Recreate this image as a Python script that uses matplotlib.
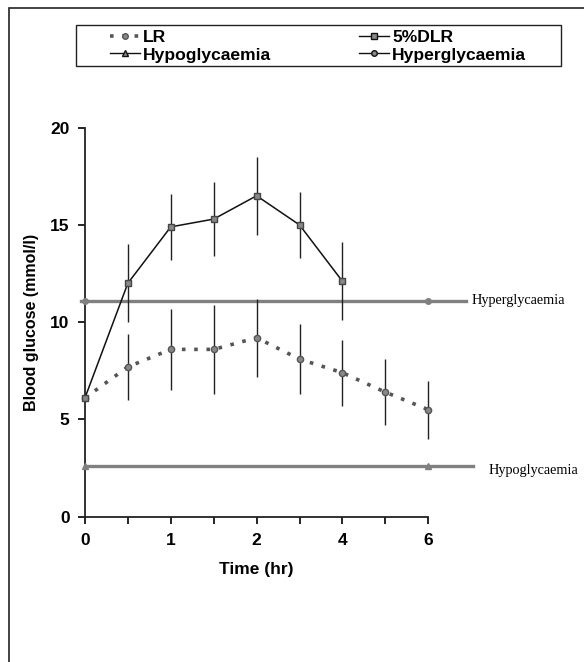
import matplotlib
matplotlib.use("Agg")
import matplotlib.pyplot as plt
from matplotlib.lines import Line2D
from matplotlib.patches import Rectangle

# time points (plotted as evenly spaced categories)
time_points = ["0", "0.5", "1", "1.5", "2", "3", "4", "5", "6"]
tick_labels = ["0", "", "1", "", "2", "", "4", "", "6"]

# blood glucose (mmol/l), mean and SD
lr_mean = [6.1, 7.7, 8.6, 8.6, 9.2, 8.1, 7.4, 6.4, 5.5]
lr_sd = [0.0, 1.7, 2.1, 2.3, 2.0, 1.8, 1.7, 1.7, 1.5]
dlr_mean = [6.1, 12.0, 14.9, 15.3, 16.5, 15.0, 12.1]
dlr_sd = [0.0, 2.0, 1.7, 1.9, 2.0, 1.7, 2.0]

hyper_level = 11.1
hypo_level = 2.6

plt.rcParams["font.family"] = ["Liberation Sans", "DejaVu Sans"]
plt.rcParams["font.weight"] = "bold"

fig = plt.figure(figsize=(5.84, 6.62), dpi=100)
ax = fig.add_axes([0.1454, 0.2196, 0.588, 0.5875])

x_lr = list(range(len(lr_mean)))
x_dlr = list(range(len(dlr_mean)))
x_ends = [0, len(time_points) - 1]

# threshold lines
ax.axhline(hyper_level, xmin=-0.01, xmax=1.11, color="#808080", lw=2.4,
           clip_on=False, zorder=2)
ax.axhline(hypo_level, xmin=0, xmax=1.13, color="#808080", lw=2.4,
           clip_on=False, zorder=2)
ax.plot(x_ends, [hyper_level] * 2, ls="none", marker="o", ms=4,
        color="#808080", clip_on=False, zorder=3)
ax.plot(x_ends, [hypo_level] * 2, ls="none", marker="^", ms=4,
        color="#808080", clip_on=False, zorder=3)

# error bars
ax.errorbar(x_lr, lr_mean, yerr=lr_sd, fmt="none", ecolor="#222222",
            elinewidth=1.0, capsize=0, clip_on=False, zorder=2)
ax.errorbar(x_dlr, dlr_mean, yerr=dlr_sd, fmt="none", ecolor="#222222",
            elinewidth=1.0, capsize=0, clip_on=False, zorder=2)

# series
ax.plot(x_lr, lr_mean, color="#555555", lw=2.6, ls=(0, (1, 2.4)),
        marker="o", ms=4.5, mfc="#888888", mec="#555555", clip_on=False, zorder=4)
ax.plot(x_dlr, dlr_mean, color="#111111", lw=1.1,
        marker="s", ms=4.5, mfc="#888888", mec="#444444", clip_on=False, zorder=4)

ax.text(9.0, hyper_level, "Hyperglycaemia", family="Liberation Serif",
        fontweight="normal", fontsize=10.3, va="center", ha="left")
ax.text(9.4, hypo_level - 0.25, "Hypoglycaemia", family="Liberation Serif",
        fontweight="normal", fontsize=10.3, va="center", ha="left")

ax.set_xlim(0, len(time_points) - 1)
ax.set_ylim(0, 20)
ax.set_xticks(x_lr)
ax.set_xticklabels(tick_labels)
ax.set_yticks([0, 5, 10, 15, 20])
ax.tick_params(axis="both", labelsize=12.5, width=1.2, length=5, pad=7)
ax.tick_params(axis="y", pad=6)
for side in ["top", "right"]:
    ax.spines[side].set_visible(False)
for side in ["left", "bottom"]:
    ax.spines[side].set_linewidth(1.3)
    ax.spines[side].set_color("#222222")

ax.set_xlabel("Time (hr)", fontsize=12.5, fontweight="bold", labelpad=10)
ax.set_ylabel("Blood glucose (mmol/l)", fontsize=11.5, fontweight="bold", labelpad=8)

handles = [
    Line2D([], [], color="#555555", lw=2.6, ls=(0, (1, 2.4)), marker="o",
           ms=4, mfc="#888888", mec="#555555"),
    Line2D([], [], color="#111111", lw=1.0, marker="^", ms=4, mfc="#888888"),
    Line2D([], [], color="#111111", lw=1.0, marker="s", ms=4, mfc="#888888"),
    Line2D([], [], color="#111111", lw=1.0, marker="o", ms=4, mfc="#888888"),
]
labels = ["LR", "Hypoglycaemia", "5%DLR", "Hyperglycaemia"]
leg = fig.legend(handles, labels, ncol=2, loc="center left",
                 bbox_to_anchor=(110 / 584, 1 - 46 / 662),
                 frameon=False, fontsize=12.6, handlelength=1.7,
                 handletextpad=0.2, columnspacing=5.0,
                 borderpad=0, labelspacing=0.15, borderaxespad=0)

# legend box, wider than its entries as in the original
fig.add_artist(Rectangle((76 / 584, 1 - 66 / 662), 485 / 584, 41 / 662,
                         transform=fig.transFigure, fill=False,
                         edgecolor="#222222", lw=1.0))

# outer frame of the scanned figure
fig.add_artist(Rectangle((9 / 584, -0.1), 1.2, 1 - 8 / 662 + 0.1,
                         transform=fig.transFigure, fill=False,
                         edgecolor="#222222", lw=1.2))

fig.savefig("out.png", dpi=100)
